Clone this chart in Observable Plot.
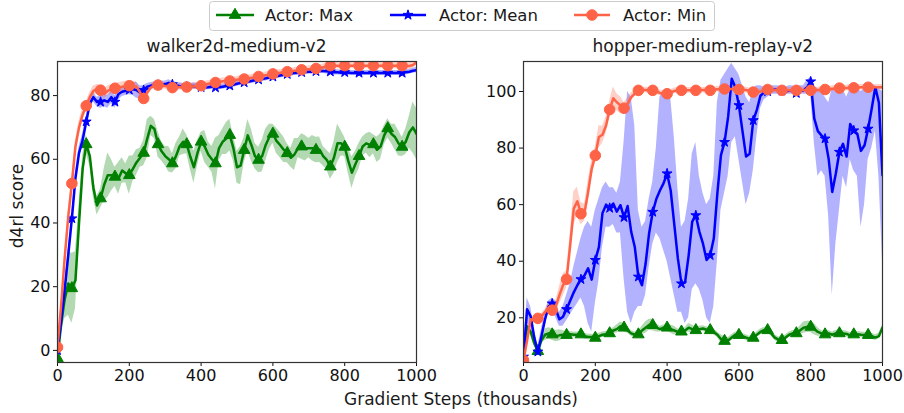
<!DOCTYPE html>
<html><head><meta charset="utf-8">
<script src="https://cdn.jsdelivr.net/npm/d3@7"></script>
<script src="https://cdn.jsdelivr.net/npm/@observablehq/plot@0.6"></script>
<style>
body{margin:0;background:#fff;}
#fig{position:relative;width:904px;height:413px;overflow:hidden;font-family:"DejaVu Sans",sans-serif;}
#fig svg{position:absolute;top:0;}
</style></head>
<body><div id="fig"></div>
<script>
// ---------- data (x grid: 0..1000 by 10, thousands of gradient steps) ----------
const steps = d3.range(0, 1001, 10);
const xTicks = [0, 200, 400, 600, 800, 1000];
const walkerYTicks = [0, 20, 40, 60, 80];
const hopperYTicks = [20, 40, 60, 80, 100];
const seriesNames = ["Actor: Max", "Actor: Mean", "Actor: Min"];
const panelTitles = ["walker2d-medium-v2", "hopper-medium-replay-v2"];

const walkerMax = [-2.5, 8, 16, 21, 19.5, 22, 40, 57, 64.7, 61,
 51, 45.5, 47.7, 52, 55, 55, 54.5, 54, 56.5, 55.6,
 55, 57, 59, 60.5, 62, 66.5, 70.5, 69.5, 64.7, 62.5,
 61, 60, 58.7, 61, 64, 65.5, 64.7, 60.8, 57.5, 62,
 65.5, 64, 61.5, 60, 58.7, 63.5, 65.5, 66.5, 67.6, 63.5,
 57.5, 58, 62.9, 67.5, 64.5, 61, 59.8, 61, 64.5, 67,
 68, 65.8, 64.5, 63, 61.9, 60.5, 61.5, 63.5, 64, 63.5,
 63.5, 63.5, 62.9, 63, 61, 59.8, 57.7, 60.5, 65, 65,
 63.9, 59.5, 55.8, 58.5, 61, 64, 65, 64.5, 64.7, 63,
 64, 67.5, 69.7, 68, 67, 65, 63.9, 65.5, 68.5, 70,
 68];
const walkerMaxSpread = [1, 3, 6, 10, 11, 9, 6, 4, 3, 3,
 3, 3, 3, 5, 7, 5, 3, 5, 4, 3,
 6, 4, 4, 3, 4, 6, 3, 3, 4, 3,
 3, 4, 3, 4, 3, 4, 3, 4, 5, 4,
 3, 5, 4, 4, 8, 4, 4, 5, 5, 4,
 5, 6, 4, 5, 5, 4, 4, 5, 5, 4,
 3, 4, 4, 4, 3, 3, 5, 3, 4, 4,
 3, 4, 4, 4, 3, 3, 4, 5, 6, 4,
 3, 4, 5, 4, 4, 3, 3, 4, 3, 4,
 4, 3, 3, 3, 4, 4, 3, 4, 5, 8,
 8];
const walkerMean = [0, 9, 19, 30, 41.4, 54, 62, 66, 71.8, 77.5,
 79.5, 78, 78, 78.5, 78, 79.5, 78, 80.5, 81.2, 81.5,
 81.8, 82, 81.7, 81, 81.7, 82.8, 83.1, 83.3, 83.3, 83.5,
 83.6, 84, 83.5, 83.2, 83, 82.9, 82.8, 82.9, 83, 82.8,
 82.6, 82.5, 82.6, 82.8, 82.5, 82.6, 82.8, 83, 83.1, 83.4,
 83.7, 84, 84.1, 84.3, 84.6, 84.8, 85, 85.2, 85.4, 85.7,
 85.9, 86.1, 86.3, 86.5, 86.7, 86.9, 87.1, 87.2, 87.3, 87.4,
 87.5, 87.5, 87.6, 87.7, 87.7, 87.6, 87.5, 87.3, 87.3, 87.2,
 87.3, 87.2, 87.1, 87.1, 87.1, 87.1, 87.1, 87.1, 87.1, 87.1,
 87.1, 87.1, 87.1, 87.1, 87.1, 87.1, 87.1, 87.3, 87.5, 87.8,
 88];
const walkerMeanSpread = [0.5, 1, 1.5, 2, 2, 2, 2, 2, 1.5, 1.5,
 1.5, 1.5, 2, 2, 2, 2, 2, 2, 1.5, 1.5,
 1.5, 2, 2.5, 2, 1.5, 1, 1, 1, 1, 1,
 1, 1, 1, 1, 1, 1, 1, 1, 1, 1,
 0.8, 0.8, 0.8, 0.8, 0.8, 0.8, 0.8, 0.8, 0.8, 0.8,
 0.8, 0.8, 0.8, 0.8, 0.8, 0.8, 0.8, 0.8, 0.8, 0.8,
 0.8, 0.8, 0.8, 0.8, 0.8, 0.8, 0.8, 0.8, 0.8, 0.8,
 0.8, 0.8, 0.8, 0.8, 0.8, 0.8, 0.8, 0.8, 0.8, 0.8,
 0.8, 0.8, 0.8, 0.8, 0.8, 0.8, 0.8, 0.8, 0.8, 0.8,
 0.8, 0.8, 0.8, 0.8, 0.8, 0.8, 0.8, 0.8, 0.8, 0.8,
 0.8];
const walkerMin = [1, 14, 29, 42, 52.4, 64, 70, 74, 76.8, 79.5,
 81.5, 82, 81.7, 80.5, 81.5, 82, 82.3, 82.5, 82.8, 83,
 83.1, 83, 82.8, 81, 79.1, 81, 82.5, 83.2, 83.3, 83.2,
 83, 82.8, 82.5, 82.6, 82.7, 82.8, 82.7, 82.8, 82.9, 83,
 83.1, 83.4, 83.7, 83.9, 84.1, 84.3, 84.5, 84.6, 84.6, 84.8,
 85, 85.2, 85.2, 85.4, 85.6, 85.8, 86, 86.2, 86.4, 86.6,
 86.8, 87, 87.2, 87.3, 87.5, 87.6, 87.8, 87.9, 88.1, 88.2,
 88.3, 88.4, 88.5, 88.7, 88.9, 89.1, 89.4, 89.4, 89.4, 89.3,
 89.4, 89.4, 89.4, 89.4, 89.4, 89.4, 89.4, 89.4, 89.4, 89.4,
 89.4, 89.4, 89.4, 89.4, 89.4, 89.4, 89.4, 89.3, 89.3, 89.6,
 90.5];
const walkerMinSpread = [0.5, 1, 1.5, 2, 2, 2, 2, 2, 1.5, 1.5,
 1.5, 1.5, 1.5, 1.5, 1.5, 1.5, 1.5, 1.5, 1.5, 1.5,
 1.5, 1.5, 1.5, 1.5, 1.5, 1.5, 1, 1, 1, 1,
 1, 1, 1, 1, 1, 1, 1, 1, 1, 1,
 1, 1, 1, 1, 1, 1, 1, 1, 1, 1,
 1, 1, 1, 1, 1, 1, 1, 1, 1, 1,
 1, 1, 1, 1, 1, 1, 1, 1, 1, 1,
 1, 1, 1, 1, 1, 1, 1, 1, 1, 1,
 1, 1, 1, 1, 1, 1, 1, 1, 1, 1,
 1, 1, 1, 1, 1, 1, 1, 1, 1, 1,
 1];

const hopperMax = [5, 17, 15, 11, 8.2, 12, 14, 14.5, 14.1, 13.5,
 13.8, 14, 13.9, 14.2, 14, 14, 14.1, 13.5, 13.2, 13.2,
 12.9, 13.5, 14, 14.2, 14.5, 15.5, 16, 17, 16.5, 15.5,
 14.5, 14, 14.1, 15.5, 16.5, 17.5, 17.4, 16.5, 16, 16.5,
 16.5, 16, 15.5, 15, 15.1, 15.5, 16.5, 16, 15.6, 16,
 16.2, 15.8, 15.6, 15, 14, 12.5, 11.8, 12, 13, 14,
 13.9, 13.5, 13, 12.5, 12.9, 14, 15, 15.6, 15.6, 14.5,
 13, 12.3, 12.1, 13, 14, 14.5, 14.5, 15.5, 16.5, 16.8,
 16.8, 16, 15, 14.5, 14.1, 14.5, 14, 14.5, 14.5, 14.5,
 14.3, 13.8, 14.1, 14.2, 14, 13.9, 13.9, 13.5, 13, 13.5,
 16.5];
const hopperMaxSpread = [1, 1, 1, 1, 1, 1, 2, 2, 2, 2,
 2, 1.5, 1, 1, 1, 1, 1, 1, 1, 1,
 1, 1, 1, 1, 1, 1, 1.5, 1.5, 1.5, 1,
 1, 1, 1, 1.5, 2, 2, 2, 1.5, 1, 1,
 1, 1.5, 1.5, 1, 1, 1, 1.5, 1.5, 1, 1,
 1, 1, 1, 1, 1, 1.5, 1.5, 1, 1, 1,
 1, 1, 1, 1, 1, 1, 1, 1, 1, 1,
 1, 1, 1, 1, 1, 1, 1, 1.5, 2, 2,
 2, 2, 1.5, 1, 1, 1, 1, 1, 1, 1,
 1, 1, 1, 1, 1, 1, 1, 1, 1, 1,
 1];
const hopperMean = [6.2, 23, 20.5, 13, 8, 13.5, 19.5, 24, 25, 23,
 19.5, 20.4, 23, 26, 29, 31.5, 33.6, 35, 37.5, 33.5,
 40.4, 45, 57, 60, 58.8, 60.4, 57.5, 59.8, 55.5, 59.5,
 50.4, 45, 34.5, 31.5, 39, 50, 57.4, 62, 65, 67.5,
 71, 65, 53, 41, 32.1, 32.5, 42, 54, 56.2, 50.4,
 46.2, 40.4, 42.1, 48, 64, 77.5, 82.1, 91, 104.5, 101.5,
 95.1, 86, 77, 78, 89.8, 93.5, 98.5, 99.6, 100, 100.4,
 100.7, 100.5, 100.2, 100, 100.3, 100.6, 99.4, 100.2, 100.4, 101.5,
 103.5, 90.4, 86, 84.5, 83.3, 76.2, 64.5, 71, 78.6, 81.5,
 77, 88.5, 86.2, 85, 79, 81, 86.8, 94, 101.5, 96,
 70.4];
const hopperMeanLow = [4, 18, 17, 11, 7, 11, 17, 22, 23, 20,
 17, 17, 19, 21, 23, 25, 27, 24, 18, 15,
 25, 33, 45, 52, 52, 53, 50, 50, 34, 22,
 18, 22, 24, 24, 28, 38, 46, 50, 48, 44,
 40, 34, 28, 22, 22, 18, 20, 30, 32, 30,
 26, 20, 18, 24, 40, 58, 64, 70, 82, 84,
 76, 68, 60, 64, 72, 84, 94, 97, 98, 99,
 99, 99, 99, 99, 99, 99, 98, 99, 99, 99,
 99, 82, 70, 72, 70, 56, 28, 46, 58, 70,
 66, 76, 72, 70, 52, 60, 76, 80, 86, 70,
 40];
const hopperMeanHigh = [8, 27, 24, 16, 10, 16, 22, 26, 27, 26,
 22, 24, 28, 32, 38, 43, 48, 52, 54, 52,
 58, 62, 66, 68, 66, 66, 64, 68, 82, 100,
 98, 88, 58, 52, 54, 62, 68, 80, 98, 100,
 101, 98, 84, 66, 52, 54, 62, 78, 82, 70,
 64, 60, 62, 70, 96, 104, 106, 108, 110, 108,
 106, 102, 98, 96, 101, 102, 102, 101.5, 102, 102,
 102, 102, 101.5, 101.5, 102, 102, 101.5, 102, 102, 104,
 105, 102, 101, 100, 98, 96, 101, 101, 101, 101,
 98, 101, 101, 101, 100, 101, 101, 102, 102, 101,
 100];
const hopperMin = [5, 12, 19.5, 19, 19.8, 20.5, 22, 23.5, 22.7, 24,
 28, 31.5, 33.6, 45.6, 58.6, 61.2, 56.8, 57.2, 64.5, 72.7,
 77.4, 83.9, 84.7, 88, 93.6, 97.6, 96.2, 95.1, 94.1, 95.6,
 98, 99.2, 100.4, 100.5, 100.5, 100.4, 100.4, 100, 99.5, 99.3,
 99.2, 99.6, 100.2, 100.4, 100.4, 100.4, 100.4, 100.4, 100.4, 100.5,
 100.5, 100.5, 100.4, 100.6, 100.8, 100.9, 100.9, 100.9, 100.9, 100.8,
 100.7, 100.6, 100.5, 100.2, 99.8, 99.8, 100, 100.3, 100.7, 100.6,
 100.5, 100.4, 100.4, 100.4, 100.4, 100.4, 100.4, 100.4, 100.5, 100.5,
 100.4, 100.5, 100.5, 100.6, 100.7, 100.8, 101, 101.1, 101.2, 101.2,
 101.2, 101.3, 101.3, 101.4, 101.5, 101.5, 101.5, 101.5, 101.5, 101.5,
 101.5];
const hopperMinSpread = [1, 1, 1, 1, 1, 1, 1, 2, 2, 2,
 3, 4, 3, 4, 6, 5, 4, 3, 4, 3,
 3, 4, 3, 3, 3, 4, 3, 3, 2, 2,
 1.5, 1, 1, 1, 1, 1, 1, 1, 1, 1,
 1, 1, 1, 1, 1, 1, 1, 1, 1, 1,
 1, 1, 1, 1, 1, 1, 1, 1, 1, 1,
 1, 1, 1, 1, 1, 1, 1, 1, 1, 1,
 1, 1, 1, 1, 1, 1, 1, 1, 1, 1,
 1, 1, 1, 1, 1, 1, 1, 1, 1, 1,
 1, 1, 1, 1, 1, 1, 1, 1, 1, 1,
 1];

// ---------- styles ----------
const colors = ["#008000", "#0000ff", "#ff6347"];
const symbols = ["triangle", "star", "circle"];
const symbolR = [4.3, 3.1, 5.3];

function rowsFrom(vals, lo, hi) {
  return steps.map((x, i) => ({x, y: vals[i], lo: lo[i], hi: hi[i]}));
}
function spreadRows(vals, spread) {
  return rowsFrom(vals, vals.map((v, i) => v - spread[i]), vals.map((v, i) => v + spread[i]));
}

const walkerSeries = [
  spreadRows(walkerMax, walkerMaxSpread),
  spreadRows(walkerMean, walkerMeanSpread),
  spreadRows(walkerMin, walkerMinSpread)
];
const hopperSeries = [
  spreadRows(hopperMax, hopperMaxSpread),
  rowsFrom(hopperMean, hopperMeanLow, hopperMeanHigh),
  spreadRows(hopperMin, hopperMinSpread)
];

function panel(series, yDomain, yTicks, width, marginRight) {
  const marks = [];
  series.forEach((rows, k) => {
    marks.push(Plot.areaY(rows, {x: "x", y1: "lo", y2: "hi", fill: colors[k], fillOpacity: 0.3, clip: true}));
  });
  series.forEach((rows, k) => {
    marks.push(Plot.lineY(rows, {x: "x", y: "y", stroke: colors[k], strokeWidth: 2.5, clip: true}));
    marks.push(Plot.dot(rows.filter(d => d.x % 40 === 0 && d.x <= 960),
      {x: "x", y: "y", symbol: () => symbols[k], r: symbolR[k], fill: colors[k], stroke: colors[k], strokeWidth: 1, clip: true}));
  });
  marks.push(Plot.frame({stroke: "#333", strokeWidth: 1.2}));
  return Plot.plot({
    width, height: 413,
    marginLeft: 57, marginRight, marginTop: 61, marginBottom: 51,
    x: {domain: [0, 1000], ticks: xTicks, tickFormat: d => String(d), tickSize: 4, tickPadding: 3, label: null},
    y: {domain: yDomain, ticks: yTicks, tickFormat: d => String(d), tickSize: 4, tickPadding: 3, label: null},
    symbol: {type: "identity"},
    style: {fontFamily: "'DejaVu Sans', sans-serif", fontSize: "16px", color: "#111", background: "transparent", overflow: "visible"},
    marks
  });
}

const fig = document.getElementById("fig");
const left = panel(walkerSeries, [-3.8, 90.7], walkerYTicks, 420, 4);
left.style.left = "0px";
fig.appendChild(left);
const right = panel(hopperSeries, [4.2, 110.6], hopperYTicks, 438, 22);
right.style.left = "466px";
fig.appendChild(right);

// ---------- overlay texts and legend ----------
const ov = d3.create("svg").attr("width", 904).attr("height", 413)
  .style("left", "0px").style("pointer-events", "none")
  .style("font-family", "'DejaVu Sans', sans-serif").attr("fill", "#1a1a1a");
ov.append("text").attr("x", 236.5).attr("y", 52).attr("text-anchor", "middle").attr("font-size", 17).text(panelTitles[0]);
ov.append("text").attr("x", 702.8).attr("y", 52).attr("text-anchor", "middle").attr("font-size", 17).text(panelTitles[1]);
ov.append("text").attr("x", 461).attr("y", 405).attr("text-anchor", "middle").attr("font-size", 17).text("Gradient Steps (thousands)");
ov.append("text").attr("transform", "translate(22.5,206) rotate(-90)").attr("text-anchor", "middle").attr("font-size", 17).text("d4rl score");

ov.append("rect").attr("x", 209.5).attr("y", 1.5).attr("width", 505).attr("height", 29).attr("rx", 3)
  .attr("fill", "#fff").attr("fill-opacity", 0.85).attr("stroke", "#cccccc");
const legX = [[216, 254, 265], [390, 426, 439], [574, 610, 623]];
const d3sym = {triangle: d3.symbolTriangle, star: d3.symbolStar, circle: d3.symbolCircle};
seriesNames.forEach((name, k) => {
  const [x1, x2, tx] = legX[k];
  ov.append("line").attr("x1", x1).attr("x2", x2).attr("y1", 15).attr("y2", 15)
    .attr("stroke", colors[k]).attr("stroke-width", 2.5);
  ov.append("path").attr("transform", `translate(${(x1 + x2) / 2},15)`)
    .attr("d", d3.symbol(d3sym[symbols[k]], Math.PI * symbolR[k] * symbolR[k])())
    .attr("fill", colors[k]).attr("stroke", colors[k]);
  ov.append("text").attr("x", tx).attr("y", 21).attr("font-size", 16.5).text(name);
});
fig.appendChild(ov.node());
</script>
</body></html>
